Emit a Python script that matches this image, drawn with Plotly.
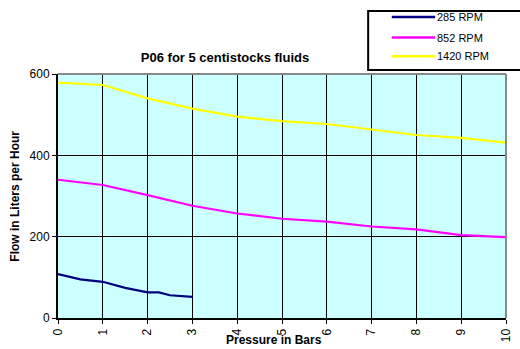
import plotly.graph_objects as go

# Data
x_285 = [0, 0.5, 1, 1.5, 2, 2.25, 2.5, 3]
y_285 = [108, 95, 89, 74, 63, 63, 56, 52]
x_852 = [0, 1, 2, 3, 4, 5, 6, 7, 8, 9, 10]
y_852 = [340, 327, 302, 276, 257, 244, 237, 225, 218, 204, 199]
x_1420 = [0, 1, 2, 3, 4, 5, 6, 7, 8, 9, 10]
y_1420 = [579, 573, 540, 515, 495, 484, 477, 464, 450, 443, 431]
series_names = ["285 RPM", "852 RPM", "1420 RPM"]
series_colors = ["#000080", "#FF00FF", "#FFFF00"]
x_ticks = list(range(0, 11))
y_ticks = [0, 200, 400, 600]

FONT = "Liberation Sans, Arial, sans-serif"

# pixel -> paper helpers (plot area: x 58..513, y 74..322)
L, R, T, B = 58, 513, 74, 322
def px(xp):
    return (xp - L) / (R - L)
def py(yp):
    return (B - yp) / (B - T)

fig = go.Figure()
for xs, ys, name, col in zip([x_285, x_852, x_1420], [y_285, y_852, y_1420], series_names, series_colors):
    fig.add_trace(go.Scatter(x=xs, y=ys, mode="lines", name=name, showlegend=False,
                             line=dict(color=col, width=2.2)))

shapes = [
    dict(type="line", xref="paper", yref="paper", x0=0, x1=1, y0=1, y1=1,
         line=dict(color="#888888", width=2)),
    dict(type="line", xref="paper", yref="paper", x0=1, x1=1, y0=0, y1=1,
         line=dict(color="#888888", width=2)),
    # legend box
    dict(type="rect", xref="paper", yref="paper", x0=px(373), x1=px(535), y0=py(70), y1=py(10),
         line=dict(color="black", width=2), fillcolor="white"),
]
annotations = [
    dict(text="<b>Flow in Liters per Hour</b>", xref="paper", yref="paper",
         x=px(14), y=0.5, xanchor="center", yanchor="middle", textangle=-90,
         showarrow=False, font=dict(size=12, family=FONT)),
    dict(text="<b>Pressure in Bars</b>", xref="paper", yref="paper",
         x=px(277), y=py(344), xanchor="center", yanchor="middle",
         showarrow=False, font=dict(size=12, family=FONT)),
]
legend_rows = [16, 37, 56]
for name, col, ry in zip(series_names, series_colors, legend_rows):
    shapes.append(dict(type="line", xref="paper", yref="paper", x0=px(397), x1=px(441),
                       y0=py(ry), y1=py(ry), line=dict(color=col, width=2.5)))
    annotations.append(dict(text=name, xref="paper", yref="paper", x=px(441), y=py(ry),
                            xanchor="left", yanchor="middle", showarrow=False,
                            font=dict(size=11, family=FONT)))

fig.update_layout(
    width=520, height=349,
    margin=dict(l=L, r=520 - R, t=T, b=349 - B),
    paper_bgcolor="white",
    plot_bgcolor="#CCFFFF",
    font=dict(family=FONT, size=12, color="black"),
    title=dict(text="<b>P06 for 5 centistocks fluids</b>", x=225/520, xanchor="center",
               y=1-57/349, yanchor="middle", font=dict(size=13, family=FONT)),
    showlegend=False,
    xaxis=dict(range=[0, 10], tickvals=x_ticks, ticktext=[str(v) for v in x_ticks],
               tickangle=-90, showgrid=True, gridcolor="black", gridwidth=1.3,
               showline=True, linecolor="black", linewidth=2, mirror=False,
               ticks="outside", ticklen=4, tickcolor="black", zeroline=False,
               tickfont=dict(size=12)),
    yaxis=dict(range=[0, 600], tickvals=y_ticks, showgrid=True, gridcolor="black", gridwidth=1,
               showline=True, linecolor="black", linewidth=2,
               ticks="outside", ticklen=4, tickcolor="black", zeroline=False,
               tickfont=dict(size=12)),
    shapes=shapes,
    annotations=annotations,
)

fig.write_html("out.html")
